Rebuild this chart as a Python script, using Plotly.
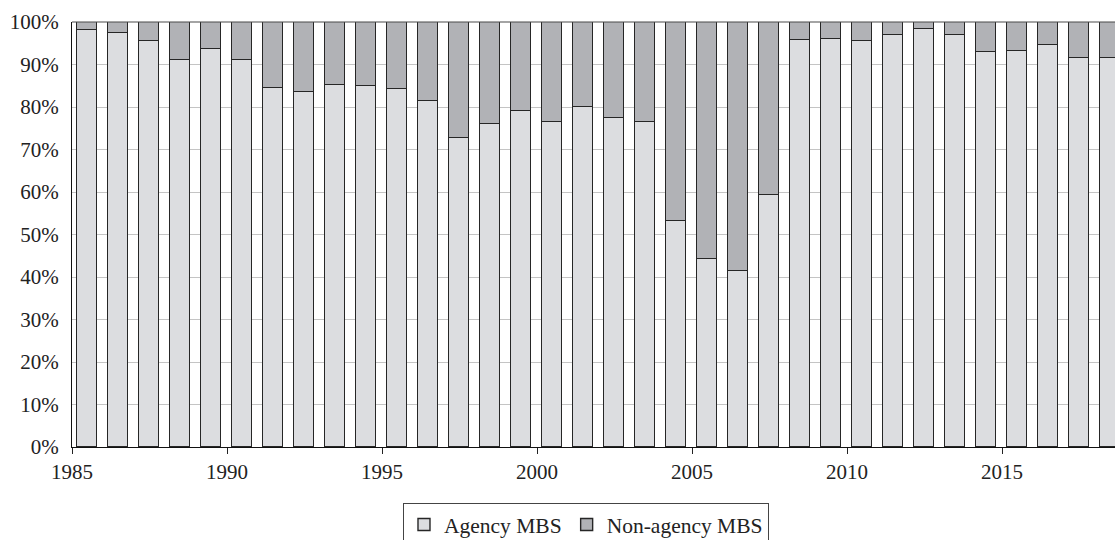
import plotly.graph_objects as go

years = list(range(1985, 2019))
agency = [98.1, 97.3, 95.5, 91.1, 93.7, 91.1, 84.4, 83.5, 85.1, 85.0,
          84.2, 81.4, 72.8, 75.9, 79.0, 76.5, 80.1, 77.5, 76.4, 53.1,
          44.2, 41.5, 59.3, 95.7, 96.0, 95.5, 97.0, 98.4, 96.9, 93.0,
          93.1, 94.7, 91.6, 91.6]
non_agency = [100 - a for a in agency]
tick_years = [1985, 1990, 1995, 2000, 2005, 2010, 2015]
y_ticks = list(range(0, 101, 10))
y_tick_labels = [f"{v}%" for v in y_ticks]

x_mid = [y + 0.48 for y in years]

FONT = "Liberation Serif"
fig = go.Figure()
fig.add_trace(go.Bar(x=x_mid, y=agency, name="Agency MBS", width=0.65,
                     marker=dict(color="#dcdde0", line=dict(color="#262626", width=1.4))))
fig.add_trace(go.Bar(x=x_mid, y=non_agency, name="Non-agency MBS", width=0.65,
                     marker=dict(color="#b1b2b6", line=dict(color="#262626", width=1.4))))

fig.update_layout(
    barmode="stack",
    width=1115, height=540,
    margin=dict(l=72, r=0, t=22, b=93, autoexpand=False),
    paper_bgcolor="white", plot_bgcolor="white",
    font=dict(family=FONT, size=21, color="#222222"),
    showlegend=True,
    legend=dict(orientation="h", x=0.4928, xanchor="center", y=-0.1318, yanchor="top",
                bordercolor="#444444", borderwidth=1, font=dict(family=FONT, size=21.5),
                traceorder="normal", itemwidth=30),
    xaxis=dict(range=[1985, 1985 + 1043 / 31], tickmode="array", tickvals=tick_years,
               ticktext=[str(t) for t in tick_years], ticks="outside", ticklen=6,
               tickcolor="#222222", showline=True, linecolor="#111111", linewidth=1,
               showgrid=False, zeroline=False, automargin=False),
    yaxis=dict(range=[0, 100], tickmode="array", tickvals=y_ticks, ticktext=y_tick_labels,
               showline=True, linecolor="#111111", linewidth=1, ticks="",
               showgrid=True, gridcolor="#c4c4c4", gridwidth=1, zeroline=False,
               ticklabelstandoff=8, automargin=False),
    bargap=0,
)
fig.add_shape(type="line", xref="paper", yref="paper", x0=0, x1=1, y0=1, y1=1,
              line=dict(color="#4a4a4a", width=1.2))
fig.write_html("out.html", config={"displayModeBar": False},
               post_script="document.body.style.margin='0';document.body.style.overflow='hidden';")
